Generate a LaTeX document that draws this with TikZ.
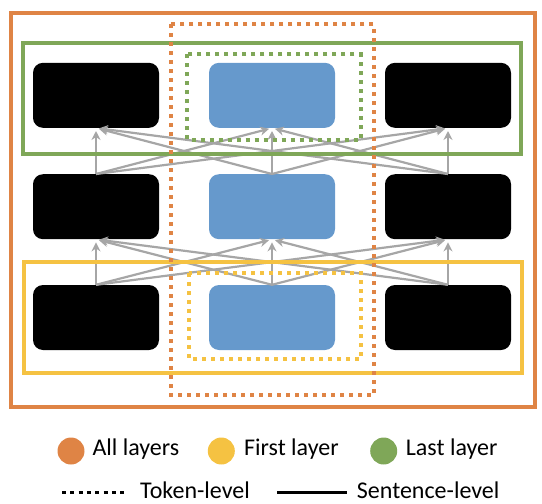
\documentclass[tikz,border=0pt]{standalone}
\usepackage{fontspec}
\setmainfont{Carlito}
\usetikzlibrary{arrows.meta}
\definecolor{allc}{HTML}{DF8445}
\definecolor{firstc}{HTML}{F5C242}
\definecolor{lastc}{HTML}{7FA758}
\definecolor{tokc}{HTML}{6699CC}
\definecolor{linkc}{HTML}{A6A6A6}
\begin{document}
\begin{tikzpicture}[x=1pt,y=-1pt,
  sent/.style={fill=black,rounded corners=10pt,minimum width=126pt,minimum height=65pt,inner sep=0pt},
  tok/.style={sent,fill=tokc},
  link/.style={draw=linkc,line width=2.2pt,shorten >=3pt,-{Stealth[length=9pt,width=9pt]}},
  sentframe/.style={line width=4pt},
  tokframe/.style={line width=4pt,dash pattern=on 4pt off 5pt},
  keydot/.style={circle,inner sep=0pt,minimum size=27pt},
  keytext/.style={inner sep=0pt,anchor=base west}]
\useasboundingbox (0,0) rectangle (542,504);
\fontsize{24}{28}\selectfont
\node[sent] (l3) at (96,95.3) {};
\node[tok] (m3) at (272,95.3) {};
\node[sent] (r3) at (448,95.3) {};
\node[sent] (l2) at (96,206.7) {};
\node[tok] (m2) at (272,206.7) {};
\node[sent] (r2) at (448,206.7) {};
\node[sent] (l1) at (96,317.5) {};
\node[tok] (m1) at (272,317.5) {};
\node[sent] (r1) at (448,317.5) {};
\foreach \a in {l,m,r}
  \foreach \b in {l,m,r} {
    \draw[link] (\a1.north) -- (\b2.south);
    \draw[link] (\a2.north) -- (\b3.south);
  }
\draw[sentframe,draw=allc] (10.5,12.7) rectangle (535,407);
\draw[sentframe,draw=lastc] (23,43) rectangle (521,153.5);
\draw[sentframe,draw=firstc] (24.3,262) rectangle (522.3,373.3);
\draw[tokframe,draw=lastc] (187,54) rectangle (360.7,139.5);
\draw[tokframe,draw=firstc] (188.7,273.3) rectangle (361.3,358.7);
\draw[tokframe,draw=allc] (170.5,24.3) rectangle (374,394.7);
\node[keydot,fill=allc] (ka) at (71,451) {};
\node[keytext] (ta) at (92.3,455.7) {All layers};
\node[keydot,fill=firstc] (kf) at (221.3,451) {};
\node[keytext] (tf) at (244,455.7) {First layer};
\node[keydot,fill=lastc] (kl) at (383.7,451) {};
\node[keytext] (tl) at (405.7,455.7) {Last layer};
\coordinate (tk1) at (62,492.5);
\coordinate (tk2) at (128.3,492.5);
\draw[line width=3.8pt,dash pattern=on 4pt off 4.3pt] (tk1) -- (tk2);
\node[keytext] (tt) at (140,498.5) {Token-level};
\coordinate (st1) at (277.3,492.5);
\coordinate (st2) at (346.7,492.5);
\draw[line width=3.8pt] (st1) -- (st2);
\node[keytext] (ts) at (356.7,498.5) {Sentence-level};
\end{tikzpicture}
\end{document}
